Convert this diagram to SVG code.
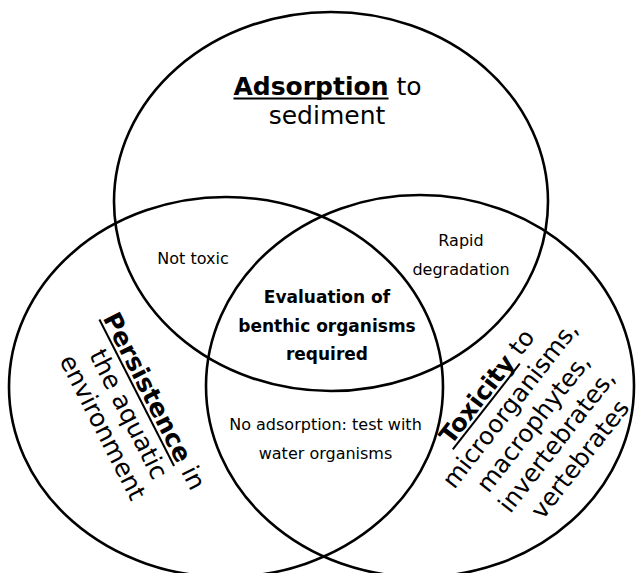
<svg xmlns="http://www.w3.org/2000/svg" width="636" height="573" viewBox="0 0 636 573">
<style>
.c{fill:none;stroke:#000;stroke-width:2.6}
.t{font-family:"DejaVu Sans","Verdana",sans-serif;fill:#000}
.big{font-size:25px}
.tox{font-size:24.5px}
.sm{font-size:16px}
.b{font-weight:bold}
.u{stroke:#000;stroke-width:2}
</style>
<rect width="636" height="573" fill="#fff"/>
<g id="circles">
<ellipse id="adsorption" class="c" cx="331" cy="201.5" rx="217" ry="189.5"/>
<ellipse id="persistence" class="c" cx="226" cy="387" rx="217" ry="190"/>
<ellipse id="toxicity" class="c" cx="420" cy="386" rx="214" ry="191"/>
</g>
<g id="label-adsorption">
<text class="t big" x="327.5" y="95" text-anchor="middle"><tspan class="b">Adsorption</tspan> to</text>
<line class="u" x1="233.5" y1="98.5" x2="388.5" y2="98.5"/>
<text class="t big" x="327" y="124" text-anchor="middle">sediment</text>
</g>
<g id="label-persistence" transform="translate(121,418) rotate(63)">
<text class="t big" x="0" y="-29" text-anchor="middle"><tspan class="b">Persistence</tspan> in</text>
<line class="u" x1="-97.6" y1="-25.5" x2="66.8" y2="-25.5"/>
<text class="t big" x="0" y="0" text-anchor="middle">the aquatic</text>
<text class="t big" x="0" y="29" text-anchor="middle">environment</text>
</g>
<g id="label-toxicity" transform="translate(540,428) rotate(-52)">
<text class="t tox" x="0" y="-59" text-anchor="middle"><tspan class="b">Toxicity</tspan> to</text>
<line class="u" x1="-70.6" y1="-55.5" x2="38.2" y2="-55.5"/>
<text class="t tox" x="0" y="-29.5" text-anchor="middle">microorganisms,</text>
<text class="t tox" x="0" y="0" text-anchor="middle">macrophytes,</text>
<text class="t tox" x="0" y="29.5" text-anchor="middle">invertebrates,</text>
<text class="t tox" x="0" y="59" text-anchor="middle">vertebrates</text>
</g>
<g id="not-toxic">
<text class="t sm" x="193" y="264" text-anchor="middle">Not toxic</text>
</g>
<g id="rapid-degradation">
<text class="t sm" x="461" y="246" text-anchor="middle">Rapid</text>
<text class="t sm" x="461" y="275" text-anchor="middle">degradation</text>
</g>
<g id="center">
<text class="t b" x="327" y="303" text-anchor="middle" font-size="17">Evaluation of</text>
<text class="t b" x="327" y="332" text-anchor="middle" font-size="17">benthic organisms</text>
<text class="t b" x="327" y="360" text-anchor="middle" font-size="17">required</text>
</g>
<g id="no-adsorption">
<text class="t sm" x="325.5" y="430" text-anchor="middle">No adsorption: test with</text>
<text class="t sm" x="325.5" y="459" text-anchor="middle">water organisms</text>
</g>
</svg>
